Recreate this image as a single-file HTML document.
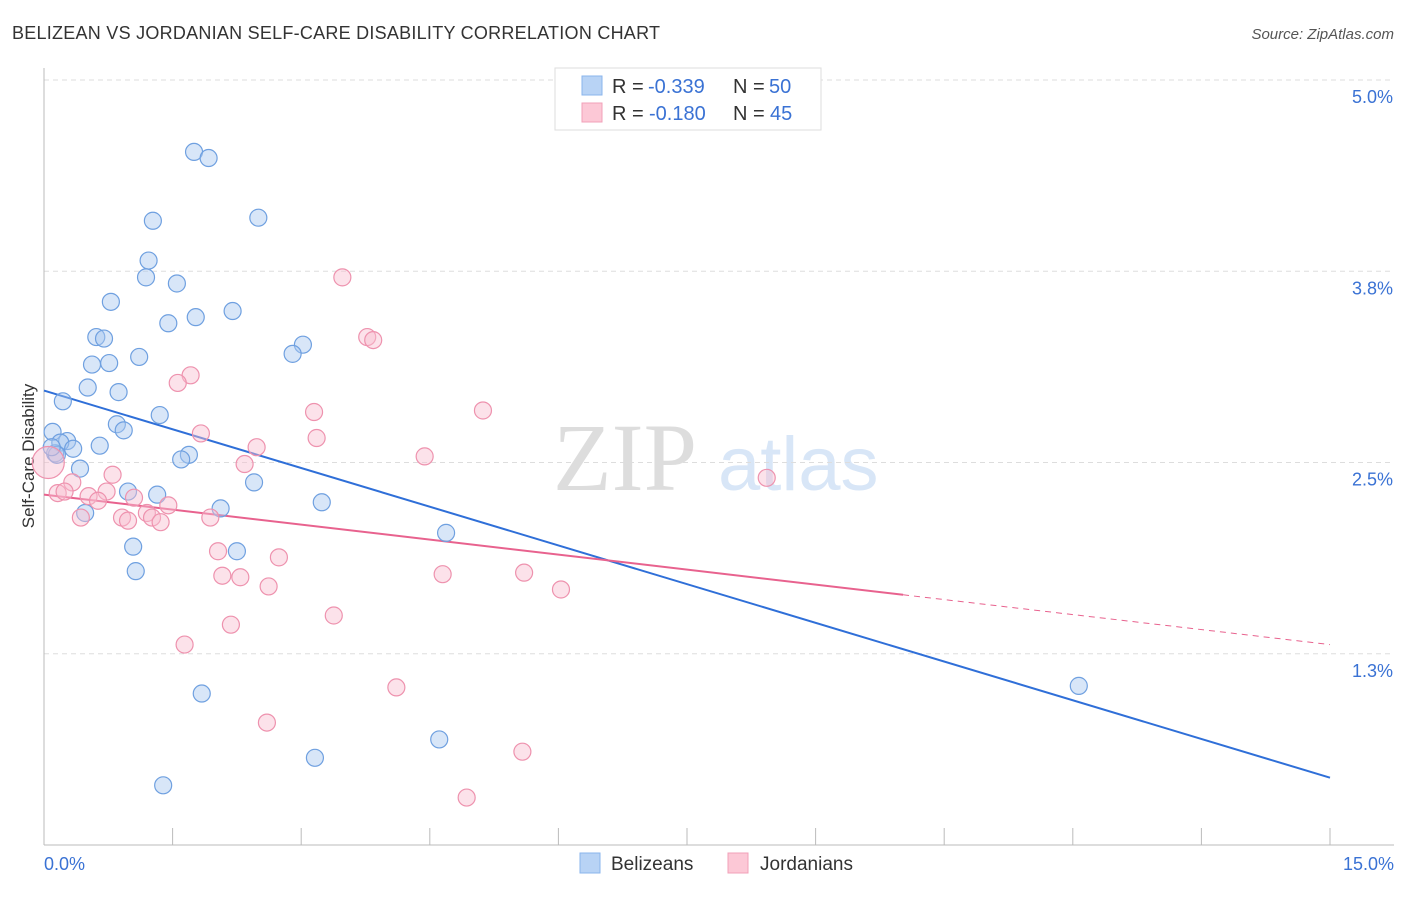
<!DOCTYPE html>
<html><head><meta charset="utf-8"><style>
body{margin:0;background:#fff;font-family:"Liberation Sans",sans-serif}
svg text{font-family:"Liberation Sans",sans-serif}
</style></head><body>
<svg id="c" width="1406" height="892" viewBox="0 0 1406 892">
<text x="12" y="39" font-size="18" fill="#333" textLength="648" lengthAdjust="spacing">BELIZEAN VS JORDANIAN SELF-CARE DISABILITY CORRELATION CHART</text>
<text x="1394" y="39" font-size="15" fill="#555" font-style="italic" text-anchor="end">Source: ZipAtlas.com</text>
<text x="0" y="0" font-size="17" fill="#333" transform="translate(34,456) rotate(-90)" text-anchor="middle">Self-Care Disability</text>
<g><text x="553" y="490" font-size="96" fill="#ddd" font-family="Liberation Serif" style="font-family:'Liberation Serif',serif">ZIP</text><text x="718" y="490" font-size="76" fill="#d8e6f7">atlas</text></g>
<g id="grid"></g><g id="axes"></g><g id="lines"></g><g id="pts"></g>
<g>
<rect x="555" y="68" width="266" height="62" fill="#fff" stroke="#ddd"/>
<rect x="582" y="76" width="20" height="19" fill="#b8d3f5" stroke="#8ab4ec"/>
<rect x="582" y="103" width="20" height="19" fill="#fcc8d6" stroke="#f2a0b8"/>
<text x="612" y="93" font-size="20" fill="#333">R =</text>
<text x="648" y="93" font-size="20" fill="#3a72d4">-0.339</text>
<text x="733" y="93" font-size="20" fill="#333">N =</text>
<text x="769" y="93" font-size="20" fill="#3a72d4">50</text>
<text x="612" y="120" font-size="20" fill="#333">R =</text>
<text x="649" y="120" font-size="20" fill="#3a72d4">-0.180</text>
<text x="733" y="120" font-size="20" fill="#333">N =</text>
<text x="770" y="120" font-size="20" fill="#3a72d4">45</text>
</g>
<g>
<rect x="580" y="853" width="20" height="20" fill="#b8d3f5" stroke="#8ab4ec"/>
<text x="611" y="870" font-size="19" fill="#333">Belizeans</text>
<rect x="728" y="853" width="20" height="20" fill="#fcc8d6" stroke="#f2a0b8"/>
<text x="760" y="870" font-size="19" fill="#333">Jordanians</text>
</g>
</svg>
<script>
const yTicks=[5.0,3.75,2.5,1.25];
const yTickLabels=["5.0%","3.8%","2.5%","1.3%"];
const xTickLabels=["0.0%","15.0%"];
const blueX=[1.75,1.92,1.27,2.50,1.22,1.19,1.55,0.78,2.20,1.77,1.45,0.61,0.70,3.02,2.90,1.11,0.56,0.76,0.51,0.87,0.22,1.35,0.85,0.93,0.10,0.27,0.19,0.65,0.34,0.13,1.69,1.60,0.42,2.45,0.98,1.32,3.24,2.06,0.48,4.69,2.25,1.04,1.07,1.84,12.07,4.61,3.16,1.39,0.15,0.09];
const blueY=[4.53,4.49,4.08,4.10,3.82,3.71,3.67,3.55,3.49,3.45,3.41,3.32,3.31,3.27,3.21,3.19,3.14,3.15,2.99,2.96,2.90,2.81,2.75,2.71,2.70,2.64,2.63,2.61,2.59,2.56,2.55,2.52,2.46,2.37,2.31,2.29,2.24,2.20,2.17,2.04,1.92,1.95,1.79,0.99,1.04,0.69,0.57,0.39,2.55,2.60];
const pinkX=[3.48,3.77,3.84,1.71,1.56,3.15,5.12,1.83,3.18,2.48,4.44,2.34,8.43,0.80,0.33,0.16,0.24,0.73,1.05,0.52,0.63,1.45,1.20,1.26,0.91,0.98,1.36,0.43,1.94,2.03,2.74,4.65,5.60,2.08,2.29,6.03,2.62,3.38,2.18,1.64,4.11,2.60,5.58,4.93,0.05];
const pinkY=[3.71,3.32,3.30,3.07,3.02,2.83,2.84,2.69,2.66,2.60,2.54,2.49,2.40,2.42,2.37,2.30,2.31,2.31,2.27,2.28,2.25,2.22,2.17,2.14,2.14,2.12,2.11,2.14,2.14,1.92,1.88,1.77,1.78,1.76,1.75,1.67,1.69,1.50,1.44,1.31,1.03,0.80,0.61,0.31,2.50];
const blueFit=[2.97,0.44];
const pinkFit=[2.29,1.31];
const pinkSolidEnd=10.02;
const NS="http://www.w3.org/2000/svg";
const X=v=>44+v/15*1286, Y=v=>845-v/5*765;
function mk(t,a,p){const e=document.createElementNS(NS,t);for(const k in a)e.setAttribute(k,a[k]);p.appendChild(e);return e;}
const grid=document.getElementById('grid'),axes=document.getElementById('axes'),lines=document.getElementById('lines'),pts=document.getElementById('pts');
yTicks.forEach((t,i)=>{const g=mk('line',{x1:44,x2:1394,y1:Y(t),y2:Y(t),stroke:'#ddd','stroke-dasharray':'5,4'},grid);


const l=mk('text',{x:1393,y:Y(t)+23,'font-size':18,fill:'#3a72d4','text-anchor':'end'},axes);l.textContent=yTickLabels[i];

});
const ax=mk('line',{x1:44,x2:44,y1:68,y2:845,stroke:'#bbb'},axes);


const bx=mk('line',{x1:44,x2:1394,y1:845,y2:845,stroke:'#bbb'},axes);


for(let i=0;i<=10;i++){const t=mk('line',{x1:X(i*1.5),x2:X(i*1.5),y1:828,y2:845,stroke:'#bbb'},axes);

}
const xl0=mk('text',{x:44,y:870,'font-size':18,fill:'#3a72d4'},axes);xl0.textContent=xTickLabels[0];


const xl1=mk('text',{x:1394,y:870,'font-size':18,fill:'#3a72d4','text-anchor':'end'},axes);xl1.textContent=xTickLabels[1];


function pt(x,y,f,s,r,name){const c=mk('circle',{cx:X(x),cy:Y(y),r:r,fill:f,'fill-opacity':0.45,stroke:s,'stroke-width':1.2},pts);

}
blueX.forEach((x,i)=>pt(x,blueY[i],'#a9c8f0','#6fa0e0',8.5,'belizean-point'));
pinkX.forEach((x,i)=>pt(x,pinkY[i],'#f9bfd0','#ee92ae',i==pinkX.length-1?16:8.5,'jordanian-point'));
const bl=mk('line',{x1:X(0),y1:Y(blueFit[0]),x2:X(15),y2:Y(blueFit[1]),stroke:'#2f6fd8','stroke-width':2},lines);


const pm=pinkFit[0]+(pinkFit[1]-pinkFit[0])*pinkSolidEnd/15;
const pl=mk('line',{x1:X(0),y1:Y(pinkFit[0]),x2:X(pinkSolidEnd),y2:Y(pm),stroke:'#e8628e','stroke-width':2},lines);


const pd=mk('line',{x1:X(pinkSolidEnd),y1:Y(pm),x2:X(15),y2:Y(pinkFit[1]),stroke:'#e8628e','stroke-width':1,'stroke-dasharray':'6,5'},lines);


</script>
</body></html>
